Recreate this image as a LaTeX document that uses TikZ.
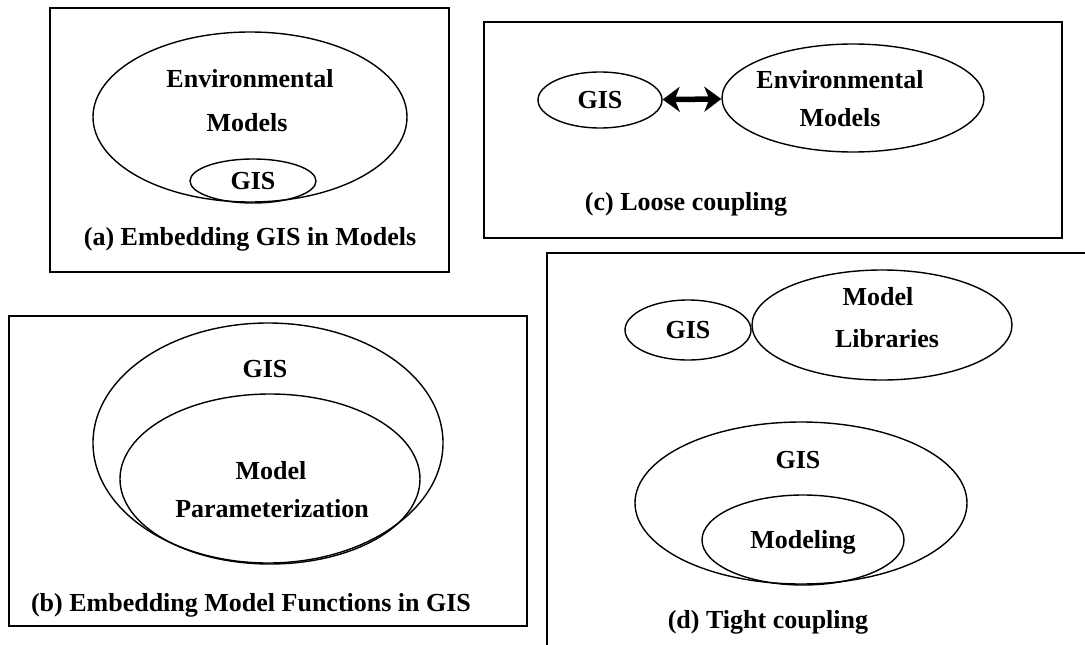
\documentclass[tikz,border=0pt]{standalone}
\usepackage{fontspec}
\setmainfont{Liberation Serif}
\usetikzlibrary{shapes.geometric,arrows.meta}

\tikzset{
  panel/.style={draw,line width=2pt},
  blob/.style 2 args={ellipse,draw,line width=1.4pt,inner sep=0pt,minimum width=#1,minimum height=#2},
  txt/.style={font=\fontsize{26}{30}\selectfont\bfseries,inner sep=0pt,text height=17pt,text depth=0pt},
  link/.style={{Stealth[length=17pt,width=25pt,inset=5pt]}-{Stealth[length=17pt,width=25pt,inset=5pt]},line width=5.5pt},
}

\begin{document}
\begin{tikzpicture}[x=1pt,y=-1pt]
  \fill[white] (0,0) rectangle (1085,645);
  \clip (0,0) rectangle (1085,645);

  % (a) GIS inside the models
  \draw[panel] (50,8) rectangle (449,272);
  \node[blob={314pt}{170pt}] (envA) at (250,117) {};
  \node[txt] (envAtop) at (250,79) {Environmental};
  \node[txt] (envAbot) at (247,123) {Models};
  \node[blob={126pt}{44pt},txt] (gisA) at (253,181) {GIS};
  \node[txt] (capA) at (250,237) {(a) Embedding GIS in Models};

  % (b) model functions inside GIS
  \draw[panel] (9,316) rectangle (527,626);
  \node[blob={350pt}{240pt}] (gisB) at (268,443) {};
  \node[txt] (gisBlbl) at (265,369) {GIS};
  \node[blob={300pt}{170pt}] (parB) at (270,479) {};
  \node[txt] (parBtop) at (271,471) {Model};
  \node[txt] (parBbot) at (272,509) {Parameterization};
  \node[txt] (capB) at (251,603) {(b) Embedding Model Functions in GIS};

  % (c) loose coupling
  \draw[panel] (484,22) rectangle (1062,238);
  \node[blob={124pt}{56pt},txt] (gisC) at (600,100) {GIS};
  \node[blob={262pt}{108pt}] (envC) at (853,98) {};
  \node[txt] (envCtop) at (840,80) {Environmental};
  \node[txt] (envCbot) at (840,118) {Models};
  \draw[link] (gisC) -- (envC);
  \node[txt] (capC) at (686,202) {(c) Loose coupling};

  % (d) tight coupling
  \draw[panel] (547,253) rectangle (1100,660);
  \node[blob={126pt}{60pt},txt] (gisD) at (688,330) {GIS};
  \node[blob={260pt}{110pt}] (libD) at (882,325) {};
  \node[txt] (libDtop) at (878,297) {Model};
  \node[txt] (libDbot) at (887,339) {Libraries};
  \node[blob={332pt}{162pt}] (gisDbig) at (801,503) {};
  \node[txt] (gisDlbl) at (798,460) {GIS};
  \node[blob={202pt}{90pt},txt] (modD) at (803,540) {Modeling};
  \node[txt] (capD) at (768,620) {(d) Tight coupling};
\end{tikzpicture}
\end{document}
